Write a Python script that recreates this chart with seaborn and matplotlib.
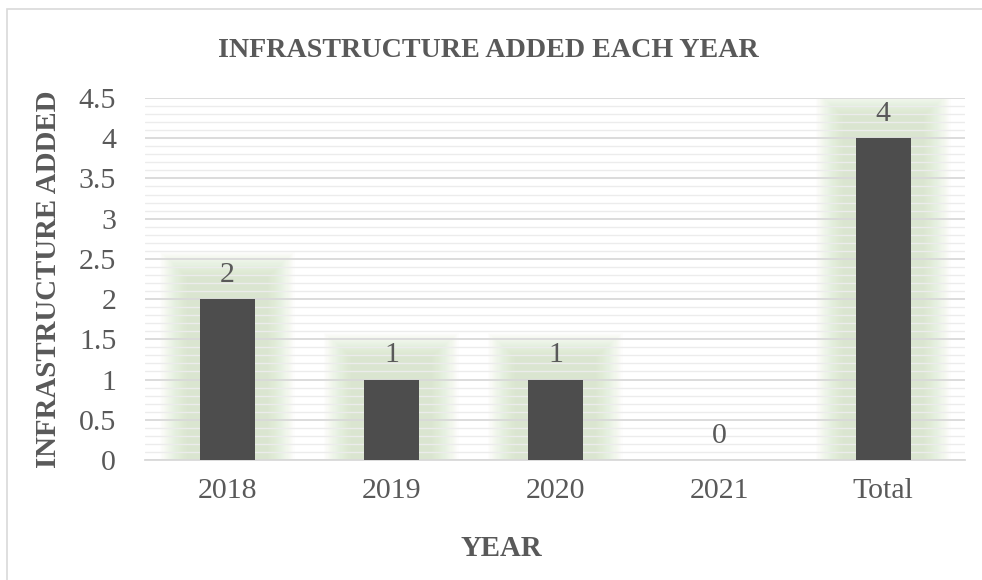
import matplotlib
matplotlib.use("Agg")
import matplotlib.pyplot as plt
import seaborn as sns
import numpy as np
from matplotlib.ticker import MultipleLocator, FuncFormatter
from matplotlib.patches import Rectangle

# Data
years = ["2018", "2019", "2020", "2021", "Total"]
added = [2, 1, 1, 0, 4]

sns.set_style("white")
plt.rcParams["font.family"] = ["Liberation Serif", "DejaVu Serif"]

text_gray = "#595959"
bar_color = "#4d4d4d"
glow_color = (0.80, 0.89, 0.74)

fig = plt.figure(figsize=(9.82, 5.8), dpi=100)
ax = fig.add_axes([0.148, 0.207, 0.835, 0.624])

# soft green glow behind the bars, built from stacked translucent bars
n_layers = 24
for k in range(n_layers):
    f = (k + 1) / n_layers
    w = 0.48 + 0.34 * f
    extra = 0.28 + 0.3 * f
    glow = [v + extra if v > 0 else 0 for v in added]
    before = len(ax.patches)
    sns.barplot(x=years, y=glow, order=years, width=w, color=glow_color,
                alpha=0.038, saturation=1, errorbar=None, ax=ax)
    for p in ax.patches[before:]:
        p.set_zorder(0.1)
        p.set_edgecolor("none")
        p.set_linewidth(0)

# main bars
before = len(ax.patches)
sns.barplot(x=years, y=added, order=years, width=0.335, color=bar_color,
            saturation=1, errorbar=None, ax=ax)
for p in ax.patches[before:]:
    p.set_zorder(3)
    p.set_edgecolor("none")

# value labels
for i, v in enumerate(added):
    ax.text(i, v + 0.14, str(v), ha="center", va="bottom", fontsize=21.5,
            color=text_gray, zorder=4)

ax.set_ylim(0, 4.5)
ax.set_xlim(-0.5, len(years) - 0.5)
ax.yaxis.set_major_locator(MultipleLocator(0.5))
ax.yaxis.set_minor_locator(MultipleLocator(0.1))
ax.yaxis.set_major_formatter(FuncFormatter(lambda y, _: f"{y:g}"))
ax.set_axisbelow(False)  # grid at zorder 2.5: above glow, below bars
ax.grid(which="major", axis="y", color="#d9d9d9", linewidth=1.3)
ax.grid(which="minor", axis="y", color="#ececec", linewidth=1.0)
ax.grid(axis="x", visible=False)

for s in ["top", "right", "left"]:
    ax.spines[s].set_visible(False)
ax.spines["bottom"].set_color("#d9d9d9")
ax.spines["bottom"].set_linewidth(1.3)

ax.tick_params(axis="both", which="both", length=0, labelsize=21.5,
               labelcolor=text_gray)
ax.tick_params(axis="y", pad=21)
ax.tick_params(axis="x", pad=13)

ax.set_xlabel("")
ax.set_ylabel("INFRASTRUCTURE ADDED", fontsize=20.8, fontweight="bold",
              color=text_gray, labelpad=12)
fig.text(0.51, 0.055, "YEAR", ha="center", va="center", fontsize=20.8,
         fontweight="bold", color=text_gray)
fig.text(0.497, 0.913, "INFRASTRUCTURE ADDED EACH YEAR", ha="center",
         va="center", fontsize=20.2, fontweight="bold", color=text_gray)

# light chart border
fig.patches.append(Rectangle((0.007, -0.02), 1.2, 1.004, transform=fig.transFigure,
                             fill=False, edgecolor="#d9d9d9", linewidth=1.2))

fig.savefig("out.png", dpi=100)
